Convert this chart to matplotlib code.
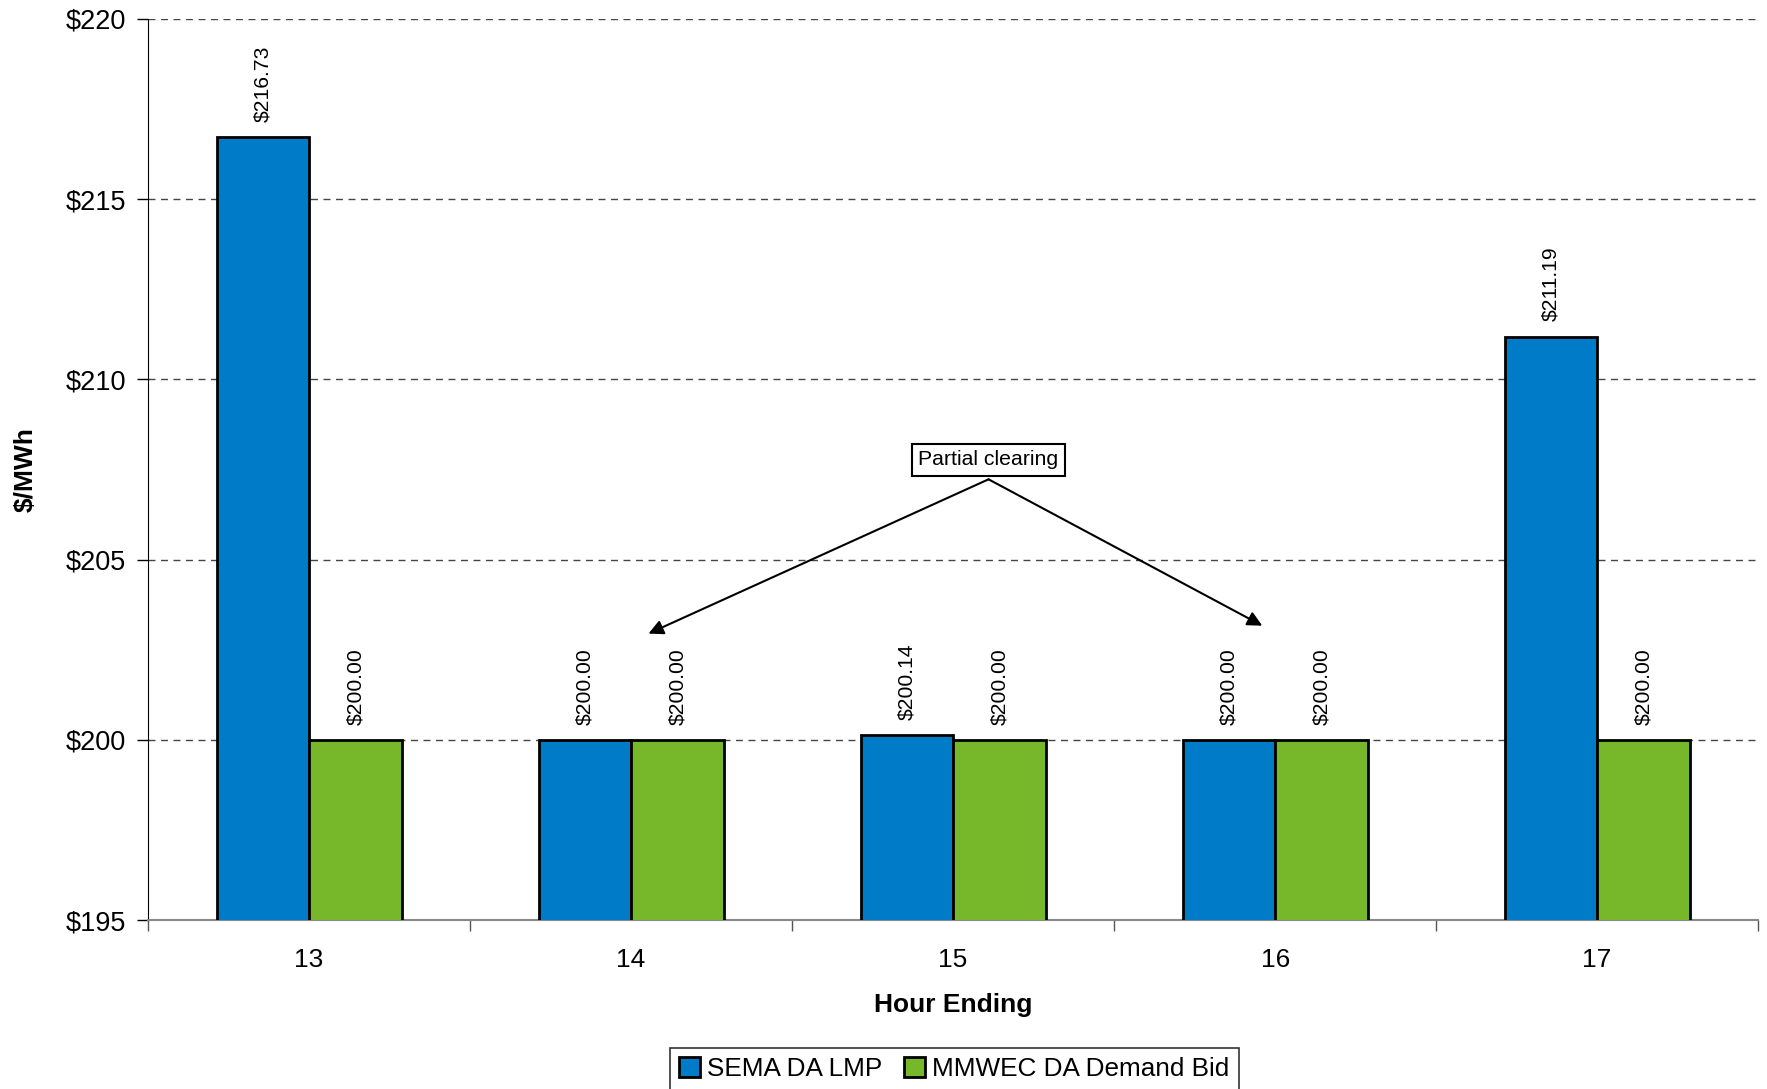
import numpy as np
from matplotlib import pyplot as plt

# hourly prices, $/MWh
hours = ["13", "14", "15", "16", "17"]
sema_lmp = [216.73, 200.00, 200.14, 200.00, 211.19]
mmwec_bid = [200.00, 200.00, 200.00, 200.00, 200.00]

BLUE = "#007BC8"
GREEN = "#77B82A"

plt.rcParams['font.family'] = ['Liberation Sans', 'DejaVu Sans']

fig = plt.figure(figsize=(17.67, 10.89), dpi=100)
ax = fig.add_axes([0.0838, 0.155, 0.9112, 0.8276])

x = np.arange(len(hours))
w = 0.287
b1 = ax.bar(x - w / 2, sema_lmp, w, color=BLUE, edgecolor="black", linewidth=2, zorder=3,
            label="SEMA DA LMP")
b2 = ax.bar(x + w / 2, mmwec_bid, w, color=GREEN, edgecolor="black", linewidth=2, zorder=3,
            label="MMWEC DA Demand Bid")

# value labels above each bar
for bars, vals in ((b1, sema_lmp), (b2, mmwec_bid)):
    for r, v in zip(bars, vals):
        ax.annotate("$%.2f" % v, (r.get_x() + r.get_width() / 2, v), xytext=(0, 11),
                    textcoords="offset points", rotation=90, ha="center", va="bottom",
                    fontsize=15.2, zorder=4)

ax.set_ylim(195, 220)
ax.set_xlim(-0.5, len(hours) - 0.5)
ax.set_yticks(np.arange(195, 221, 5))
ax.set_yticklabels(["$%d" % t for t in range(195, 221, 5)], fontsize=19.5)
ax.tick_params(axis="y", length=8, width=1, pad=8)

ax.set_xticks(x)
ax.set_xticklabels(hours, fontsize=19)
ax.tick_params(axis="x", length=0, pad=20)
ax.set_xticks(np.arange(-0.5, len(hours)), minor=True)
ax.tick_params(axis="x", which="minor", length=8, width=1, color="#555555")

ax.grid(axis="y", linestyle=(0, (5, 4)), color="#444444", linewidth=1, zorder=0)
for s in ("top", "right"):
    ax.spines[s].set_visible(False)
ax.spines["bottom"].set_color("#888888")
ax.spines["bottom"].set_linewidth(1.5)

ax.set_xlabel("Hour Ending", fontsize=19, fontweight="bold", labelpad=15)
ax.set_ylabel("$/MWh", fontsize=19, fontweight="bold", labelpad=20)

# callout for the partially cleared hours
ax.text(2.11, 207.77, "Partial clearing", ha="center", va="center", fontsize=15.3, zorder=5,
        bbox=dict(boxstyle="square,pad=0.3", facecolor="white", edgecolor="black", linewidth=1.5))
for tx, ty in ((1.054, 202.95), (2.96, 203.17)):
    ax.annotate("", xy=(tx, ty), xytext=(2.11, 207.23),
                arrowprops=dict(arrowstyle="-|>", color="black", lw=1.5, mutation_scale=22,
                                shrinkA=0, shrinkB=0), zorder=5)

leg = fig.legend(handles=[b1, b2], loc="center", bbox_to_anchor=(0.540, 0.0185), ncol=2,
                 fontsize=18.8, frameon=True, fancybox=False, edgecolor="black",
                 handlelength=0.8, handleheight=0.8, handletextpad=0.3, columnspacing=0.8,
                 borderpad=0.35, borderaxespad=0)
leg.get_frame().set_linewidth(1.2)

fig.savefig("out.png", dpi=100)
